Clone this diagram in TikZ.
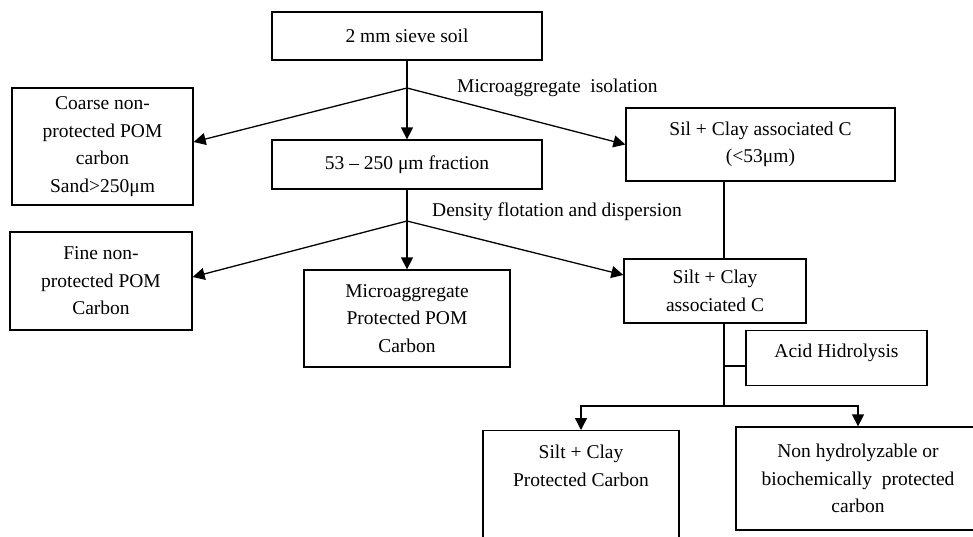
\documentclass[tikz,border=0pt]{standalone}
\usepackage{fontspec}
\setmainfont{Liberation Serif}
\usetikzlibrary{arrows.meta}

\tikzset{
  every node/.style={font=\fontsize{19.5}{27.5}\selectfont},
  box/.style={draw, line width=1.3pt, align=center, inner sep=0pt},
  lbl/.style={anchor=west, inner sep=0pt},
  ln/.style={line width=1.3pt},
  arr/.style={line width=1.3pt, -{Triangle[length=12pt,width=12pt]}}
}

\begin{document}
\begin{tikzpicture}[x=1pt, y=-1pt]
    \useasboundingbox (0,0) rectangle (973,536);
    \clip (0,0) rectangle (973,536);

    \node[box, minimum width=270pt, minimum height=48pt] (soil) at (407,36) {2 mm sieve soil};
    \node[box, minimum width=181pt, minimum height=117pt] (coarse) at (102.5,146.5)
        {Coarse non-\\protected POM\\carbon\\Sand>250μm};
    \node[box, minimum width=270pt, minimum height=49pt] (frac) at (407,164.5) {53 – 250 μm fraction};
    \node[box, minimum width=269pt, minimum height=73pt] (sil) at (760.5,144.5)
        {Sil + Clay associated C\\(<53μm)};
    \node[box, minimum width=182pt, minimum height=98pt] (fine) at (101,281)
        {Fine non-\\protected POM\\Carbon};
    \node[box, minimum width=206pt, minimum height=97pt] (micro) at (407,318.5)
        {Microaggregate\\Protected POM\\Carbon};
    \node[box, minimum width=182pt, minimum height=64pt] (silt) at (715,291)
        {Silt + Clay\\associated C};
    \node[box, anchor=north, minimum width=181pt, text height=27pt, text depth=28pt] (acid) at (836.5,330)
        {Acid Hidrolysis};
    \node[box, anchor=north, minimum width=196pt, text height=28pt, text depth=90pt] (prot) at (581,430)
        {\begin{tabular}[t]{@{}c@{}}Silt + Clay\\Protected Carbon\end{tabular}};
    \node[box, minimum width=244pt, minimum height=103pt] (nonh) at (858,478.5)
        {Non hydrolyzable or\\biochemically\ \ protected\\carbon};

    \node[lbl] (isolbl) at (457,88) {Microaggregate\ \ isolation};
    \node[lbl] (denslbl) at (432,212) {Density flotation and dispersion};

    \coordinate (split1) at (407,88);
    \coordinate (split2) at (407,221);
    \coordinate (stem) at (724,0);
    \coordinate (tap) at (724,366);
    \coordinate (split3) at (724,406);

    \draw[ln] (soil.south) -- (split1);
    \draw[arr] (split1) -- ([yshift=4.5pt]coarse.east);
    \draw[arr] (split1) -- (frac.north);
    \draw[arr] (split1) -- (sil.west);

    \draw[ln] (frac.south) -- (split2);
    \draw[arr] (split2) -- ([yshift=4pt]fine.east);
    \draw[arr] (split2) -- (micro.north);
    \draw[arr] (split2) -- ([yshift=16pt]silt.west);

    \draw[ln] (sil.south -| stem) -- (silt.north -| stem);
    \draw[ln] (silt.south -| stem) -- (split3);
    \draw[ln] (tap) -- (tap -| acid.west);
    \draw[arr] (split3) -| (prot.north);
    \draw[arr] (split3) -| (nonh.north);
\end{tikzpicture}
\end{document}
